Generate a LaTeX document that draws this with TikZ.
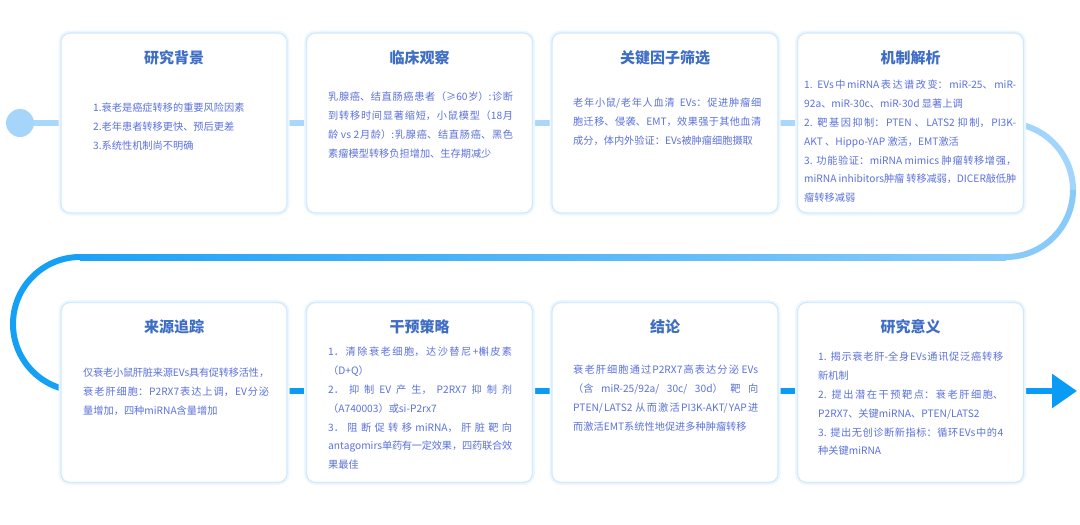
\documentclass[tikz,border=0pt]{standalone}
\usepackage{fontspec}
\setmainfont{Noto Sans CJK SC}
\usetikzlibrary{arrows.meta}
\XeTeXlinebreaklocale "zh"
\XeTeXlinebreakskip=0pt plus 3pt minus 0.4pt
\tolerance=9999 \hbadness=10000 \emergencystretch=0pt
\setlength{\parindent}{0pt}

\definecolor{dotblue}{HTML}{A6D5FB}
\definecolor{linetop}{HTML}{A9D8FC}
\definecolor{arcup}{HTML}{A2D5FB}
\definecolor{arclow}{HTML}{88CBFA}
\definecolor{backleft}{HTML}{1EA2F6}
\definecolor{arcleft}{HTML}{13A0F5}
\definecolor{linebot}{HTML}{0A9BF4}
\definecolor{cardedge}{HTML}{D2E9FD}
\definecolor{cardglow}{HTML}{EEF7FF}
\definecolor{titleblue}{HTML}{3D6DC5}
\definecolor{bodyblue}{HTML}{5B72DB}

\begin{document}
\begin{tikzpicture}[x=1pt,y=-1pt,
  card/.style={rectangle, rounded corners=9pt, fill=white, draw=cardedge, line width=1.2pt,
          preaction={draw=cardglow, line width=5pt},
          minimum width=226pt, minimum height=180pt},
  cardtitle/.style={font=\fontsize{15}{18}\selectfont\bfseries, text=titleblue},
  cardtext/.style={anchor=north west, inner sep=0pt, align=justify, text=bodyblue,
          font=\fontsize{10.2}{18.8}\selectfont}]
\useasboundingbox (0,0) rectangle (1080,525);

% timeline
\node[circle, fill=dotblue, minimum size=28pt, inner sep=0pt] (start) at (20,123) {};
\coordinate (turnR) at (1006,123);
\coordinate (turnL) at (80,257);
\coordinate (rowB) at (80,391);
\coordinate (tip) at (1077,391);

\draw[linetop, line width=6pt] (start) -- (turnR);
\draw[arcup, line width=6pt] (turnR) arc[start angle=-90, end angle=0, radius=67];
\draw[arclow, line width=6pt] (1073,190) arc[start angle=0, end angle=90, radius=67];
\shade[left color=backleft, right color=arclow] (turnL) ++(0,-3) rectangle (1006,260);
\draw[arcleft, line width=6pt] (turnL) arc[start angle=-90, end angle=-270, radius=67];
\draw[linebot, line width=6pt, -{Triangle[length=25pt, width=33pt]}] (rowB) -- (tip);

% top row
\node[card] (bg) at (174,123) {};
\node[cardtitle] (bg-t) at (bg.center |- 0,58) {研究背景};
\node[cardtext, align=left, text width=190pt] (bg-x) at (93,103)
  {1.衰老是癌症转移的重要风险因素\\
   2.老年患者转移更快、预后更差\\
   3.系统性机制尚不明确};

\node[card] (clin) at (419.5,123) {};
\node[cardtitle] (clin-t) at (clin.center |- 0,58) {临床观察};
\node[cardtext, text width=185pt] (clin-x) at (328,92)
  {乳腺癌、结直肠癌患者（≥60岁）:诊断\linebreak
   到转移时间显著缩短，小鼠模型（18月\linebreak
   龄 vs 2月龄）:乳腺癌、结直肠癌、黑色\linebreak
   素瘤模型转移负担增加、生存期减少};

\node[card] (key) at (665,123) {};
\node[cardtitle] (key-t) at (key.center |- 0,58) {关键因子筛选};
\node[cardtext, text width=188pt] (key-x) at (573,98)
  {老年小鼠/老年人血清\ \ EVs：促进肿瘤细\linebreak
   胞迁移、侵袭、EMT，效果强于其他血清\linebreak
   成分，体内外验证：EVs被肿瘤细胞摄取};

\node[card] (mech) at (910.5,123) {};
\node[cardtitle] (mech-t) at (mech.center |- 0,58) {机制解析};
\node[cardtext, text width=212pt] (mech-x) at (804,80)
  {1. EVs中miRNA表达谱改变：miR-25、miR-\linebreak
   92a、miR-30c、miR-30d 显著上调\\
   2. 靶基因抑制：PTEN 、LATS2 抑制，PI3K-\linebreak
   AKT 、Hippo-YAP 激活，EMT激活\\
   3. 功能验证：miRNA mimics 肿瘤转移增强，\linebreak
   miRNA inhibitors肿瘤 转移减弱，DICER敲低肿\linebreak
   瘤转移减弱};

% bottom row
\node[card] (src) at (174,392.5) {};
\node[cardtitle] (src-t) at (src.center |- 0,327) {来源追踪};
\node[cardtext, text width=186pt] (src-x) at (83,368)
  {仅衰老小鼠肝脏来源EVs具有促转移活性，\linebreak
   衰老肝细胞：P2RX7表达上调，EV分泌\linebreak
   量增加，四种miRNA含量增加};

\node[card] (interv) at (419.5,392.5) {};
\node[cardtitle] (interv-t) at (interv.center |- 0,327) {干预策略};
\node[cardtext, text width=184pt] (interv-x) at (328,347)
  {1．清除衰老细胞，达沙替尼+槲皮素\linebreak
   （D+Q）\\
   2．抑制EV产生，P2RX7抑制剂\linebreak
   （A740003）或si-P2rx7\\
   3．阻断促转移miRNA，肝脏靶向\linebreak
   antagomirs单药有一定效果，四药联合效\linebreak
   果最佳};

\node[card] (concl) at (665,392.5) {};
\node[cardtitle] (concl-t) at (concl.center |- 0,327) {结论};
\node[cardtext, text width=185pt] (concl-x) at (573,365)
  {衰老肝细胞通过P2RX7高表达分泌 EVs\linebreak
   （含miR-25/92a/30c/30d）靶向\linebreak
   PTEN/LATS2 从而激活PI3K-AKT/YAP进\linebreak
   而激活EMT系统性地促进多种肿瘤转移};

\node[card] (signif) at (910.5,392.5) {};
\node[cardtitle] (signif-t) at (signif.center |- 0,327) {研究意义};
\node[cardtext, text width=185pt] (signif-x) at (818,352)
  {1. 揭示衰老肝-全身EVs通讯促泛癌转移\linebreak
   新机制\\
   2. 提出潜在干预靶点：衰老肝细胞、\linebreak
   P2RX7、关键miRNA、PTEN/LATS2\\
   3. 提出无创诊断新指标：循环EVs中的4\linebreak
   种关键miRNA};
\end{tikzpicture}
\end{document}
